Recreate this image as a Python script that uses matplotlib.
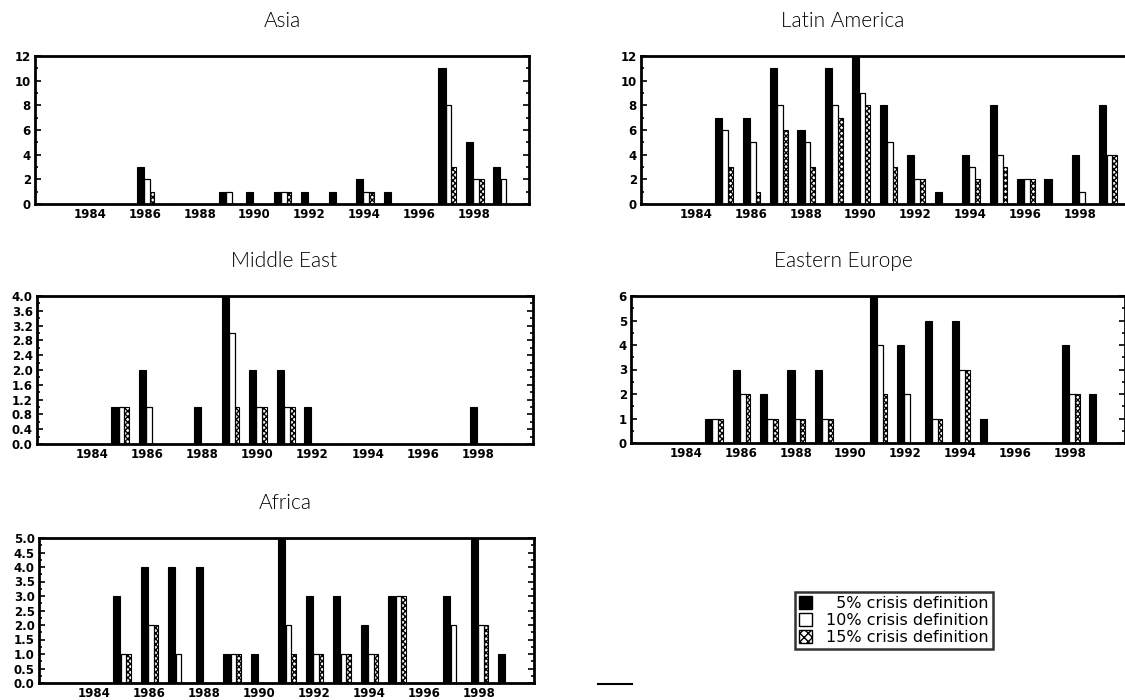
import matplotlib
matplotlib.use("Agg")
import matplotlib.pyplot as plt
import numpy as np
from matplotlib.patches import Patch
from matplotlib.ticker import MultipleLocator, FormatStrFormatter

years = list(range(1984, 2000))
xtick_years = [1984, 1986, 1988, 1990, 1992, 1994, 1996, 1998]

asia_5 = [0, 0, 3, 0, 0, 1, 1, 1, 1, 1, 2, 1, 0, 11, 5, 3]
asia_10 = [0, 0, 2, 0, 0, 1, 0, 1, 0, 0, 1, 0, 0, 8, 2, 2]
asia_15 = [0, 0, 1, 0, 0, 0, 0, 1, 0, 0, 1, 0, 0, 3, 2, 0]

latam_5 = [0, 7, 7, 11, 6, 11, 12, 8, 4, 1, 4, 8, 2, 2, 4, 8]
latam_10 = [0, 6, 5, 8, 5, 8, 9, 5, 2, 0, 3, 4, 2, 0, 1, 4]
latam_15 = [0, 3, 1, 6, 3, 7, 8, 3, 2, 0, 2, 3, 2, 0, 0, 4]

mideast_5 = [0, 1, 2, 0, 1, 4, 2, 2, 1, 0, 0, 0, 0, 0, 1, 0]
mideast_10 = [0, 1, 1, 0, 0, 3, 1, 1, 0, 0, 0, 0, 0, 0, 0, 0]
mideast_15 = [0, 1, 0, 0, 0, 1, 1, 1, 0, 0, 0, 0, 0, 0, 0, 0]

eeurope_5 = [0, 1, 3, 2, 3, 3, 0, 6, 4, 5, 5, 1, 0, 0, 4, 2]
eeurope_10 = [0, 1, 2, 1, 1, 1, 0, 4, 2, 1, 3, 0, 0, 0, 2, 0]
eeurope_15 = [0, 1, 2, 1, 1, 1, 0, 2, 0, 1, 3, 0, 0, 0, 2, 0]

africa_5 = [0, 3, 4, 4, 4, 1, 1, 5, 3, 3, 2, 3, 0, 3, 5, 1]
africa_10 = [0, 1, 2, 1, 0, 1, 0, 2, 1, 1, 1, 3, 0, 2, 2, 0]
africa_15 = [0, 1, 2, 0, 0, 1, 0, 1, 1, 1, 1, 3, 0, 0, 2, 0]

legend_labels = ["\u20075% crisis definition", "10% crisis definition", "15% crisis definition"]

W, H = 1125, 700
fig = plt.figure(figsize=(W / 100, H / 100), dpi=100)
fig.patch.set_facecolor("white")


def px_axes(left, top, right, bottom):
    return fig.add_axes([left / W, 1 - bottom / H, (right - left) / W, (bottom - top) / H])


panels = [
    ("Asia", (35, 56, 529, 204), (282, 21), asia_5, asia_10, asia_15, 12, 2, "%d"),
    ("Latin America", (641, 56, 1135, 204), (843, 21), latam_5, latam_10, latam_15, 12, 2, "%d"),
    ("Middle East", (37, 296, 533, 444), (284, 261), mideast_5, mideast_10, mideast_15, 4.0, 0.4, "%.1f"),
    ("Eastern Europe", (631, 296, 1125, 443), (843, 261), eeurope_5, eeurope_10, eeurope_15, 6, 1, "%d"),
    ("Africa", (39, 538, 534, 683), (285, 503), africa_5, africa_10, africa_15, 5.0, 0.5, "%.1f"),
]

yrs = np.array(years, dtype=float)
for title, box, tpos, s5, s10, s15, ymax, ystep, fmt in panels:
    ax = px_axes(*box)
    ax.bar(yrs - 0.17, s5, width=0.26, color="black", edgecolor="black", linewidth=0.8, zorder=3)
    ax.bar(yrs + 0.26, s15, width=0.17, color="white", edgecolor="black", hatch="xxxxxx",
           linewidth=0.8, zorder=2)
    ax.bar(yrs + 0.07, s10, width=0.21, color="white", edgecolor="black", linewidth=0.9, zorder=2.5)
    ax.set_xlim(1982, 2000)
    ax.set_ylim(0, ymax)
    ax.set_xticks(xtick_years)
    ax.set_xticklabels([str(y) for y in xtick_years])
    ax.yaxis.set_major_locator(MultipleLocator(ystep))
    ax.yaxis.set_minor_locator(MultipleLocator(ystep / 2))
    ax.yaxis.set_major_formatter(FormatStrFormatter(fmt))
    ax.tick_params(axis="x", length=0, pad=3, labelsize=8.5)
    ax.tick_params(axis="y", which="both", direction="in", left=True, right=True,
                   labelsize=8.5, pad=3, width=1.2)
    ax.tick_params(axis="y", which="major", length=4)
    ax.tick_params(axis="y", which="minor", length=2.5)
    for lab in ax.get_xticklabels() + ax.get_yticklabels():
        lab.set_fontweight("bold")
    for sp in ax.spines.values():
        sp.set_linewidth(2.0)
        sp.set_color("black")
    fig.text(tpos[0] / W, 1 - tpos[1] / H, title, ha="center", va="center",
             fontsize=15, color="black", family=["Lato", "DejaVu Sans"], fontweight=300)

handles = [
    Patch(facecolor="black", edgecolor="black"),
    Patch(facecolor="white", edgecolor="black", linewidth=1.0),
    Patch(facecolor="white", edgecolor="black", hatch="xxxx", linewidth=1.0),
]
leg = fig.legend(handles, legend_labels, loc="upper left",
                 bbox_to_anchor=(795 / W, 1 - 592 / H), fontsize=11.5,
                 frameon=True, fancybox=False, shadow=False, borderpad=0.25,
                 labelspacing=0.12, handlelength=0.8, handleheight=0.9,
                 handletextpad=0.9, borderaxespad=0)
leg.get_frame().set_edgecolor("black")
leg.get_frame().set_linewidth(1.8)

fig.add_artist(plt.Line2D([598 / W, 632 / W], [1 - 684 / H, 1 - 684 / H],
                          color="black", linewidth=1.5))

fig.savefig("out.png", dpi=100, facecolor="white")
